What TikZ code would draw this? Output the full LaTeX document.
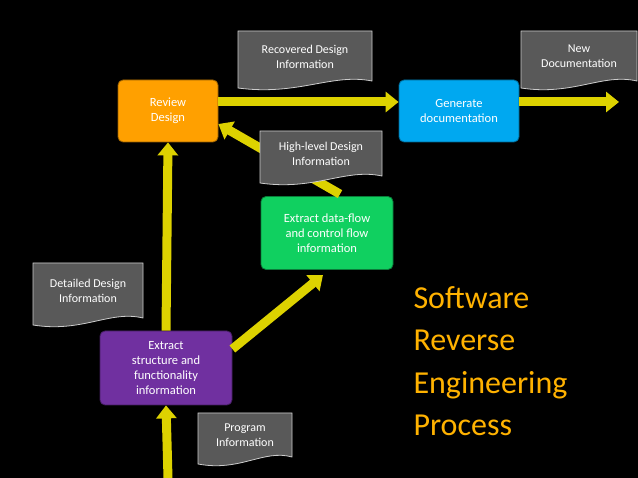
\documentclass[tikz,border=0pt]{standalone}
\usepackage{fontspec}
\setmainfont{Carlito}
\usetikzlibrary{arrows.meta}
\newcommand\mydoc[6]{% name,x1,y1,x2,y2,text
  \path[docbox] (#2,#3) -- (#4,#3) -- (#4,#5-7) .. controls ({#4-0.3*(#4-#2)},#5-15) and ({#2+0.45*(#4-#2)},#5+8) .. (#2,#5) -- cycle;
  \node[doctext] (#1) at ({(#2+#4)/2},{(#3+#5)/2-3}) {#6};}
\begin{document}
\begin{tikzpicture}[x=1pt,y=-1pt,
  box/.style={rounded corners=5pt,draw=#1!60!black,line width=0.8pt,fill=#1,text=white,align=center,font=\fontsize{12.5}{15}\selectfont},
  docbox/.style={fill=gray!70!black,draw=gray!40,line width=0.8pt},
  doctext/.style={text=white,align=center,font=\fontsize{12}{15}\selectfont},
  arr/.style={draw=yellow!70!olive,line width=9pt,-{Triangle[width=20pt,length=13pt]}}]
\useasboundingbox[fill=black] (0,0) rectangle (638,478);
\definecolor{orng}{HTML}{FFA000}
\definecolor{blu}{HTML}{00A8F0}
\definecolor{grn}{HTML}{10D060}
\definecolor{purp}{HTML}{7030A0}
\node[box=orng,minimum width=100pt,minimum height=62pt] (rev) at (168,111) {Review\\Design};
\node[box=blu,minimum width=120pt,minimum height=62pt] (gen) at (459,111) {Generate\\documentation};
\node[box=grn,minimum width=132pt,minimum height=73pt] (dfl) at (327,233) {Extract data-flow\\and control flow\\information};
\node[box=purp,minimum width=132pt,minimum height=74pt] (str) at (166,368) {Extract\\structure and\\functionality\\information};
\coordinate (bot) at (168,478);
\coordinate (out) at (619,102);
\draw[arr] (rev.east|-0,102) -- (gen.west|-0,102);
\draw[arr] (gen.east|-0,102) -- (out);
\draw[arr] (dfl.north) ++(13,-2) -- (rev.east|-0,124);
\draw[arr] (str.east|-0,349) -- (323,275);
\draw[arr] (str.north) -- (rev.south);
\draw[arr] (bot) -- (str.south);
\mydoc{rdi}{238}{31}{372}{88}{Recovered Design\\Information}
\mydoc{nd}{521}{31}{637}{88}{New\\Documentation}
\mydoc{hl}{260}{131}{382}{183}{High-level Design\\Information}
\mydoc{dd}{33}{263}{143}{325}{Detailed Design\\Information}
\mydoc{pi}{198}{413}{292}{464}{Program\\Information}
\node[anchor=north west,align=left,text=orange!60!yellow,font=\fontsize{32}{42.5}\selectfont] (title) at (410,283) {Software\\Reverse\\Engineering\\Process};
\end{tikzpicture}
\end{document}
